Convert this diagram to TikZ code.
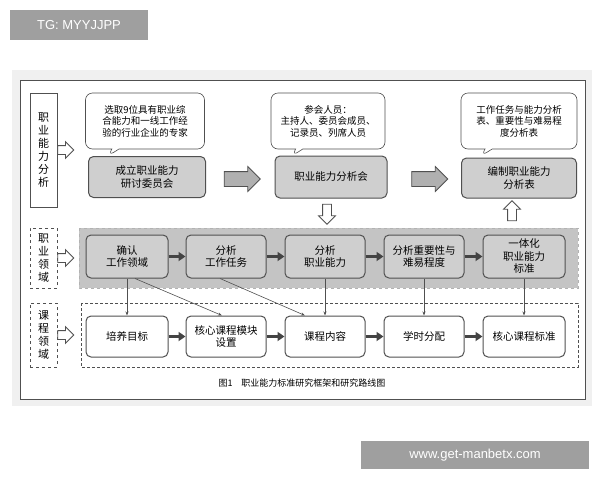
\documentclass[tikz,border=0pt]{standalone}
\usepackage{fontspec}
\setmainfont{Noto Sans CJK SC}
\setsansfont{Liberation Sans}
\usetikzlibrary{shapes.callouts,arrows.meta,shapes.arrows}
\definecolor{boxg}{HTML}{CFCFCF}
\definecolor{bandg}{HTML}{C4C4C4}
\definecolor{edge}{HTML}{505050}
\tikzset{
 px/.style={x=1pt,y=-1pt},
 gbox/.style={draw=edge,fill=boxg,rounded corners=5pt,line width=1pt,align=center,font=\fontsize{10.5}{12.5}\selectfont,inner sep=1pt},
 wbox/.style={draw=edge,fill=white,rounded corners=5pt,line width=1pt,align=center,font=\fontsize{10.5}{12.5}\selectfont,inner sep=1pt},
 lbl/.style={draw=edge,fill=white,align=center,font=\fontsize{11}{13}\selectfont,inner sep=1pt,line width=0.8pt},
 callt/.style={rectangle callout,draw=edge,fill=white,rounded corners=7pt,align=center,font=\fontsize{9.5}{11.5}\selectfont,inner sep=1pt,line width=0.6pt},
 blk/.style={single arrow,draw=edge,fill=bandg!90!black,minimum height=36pt,inner xsep=0pt,inner ysep=7pt,single arrow head extend=5pt,line width=0.8pt},
 hol/.style={single arrow,draw=edge,fill=white,minimum height=16pt,inner xsep=0pt,inner ysep=4pt,single arrow head extend=4pt,line width=0.8pt},
 holv/.style={single arrow,draw=edge,fill=white,minimum height=20pt,inner xsep=4pt,inner ysep=0pt,single arrow head extend=4pt,line width=0.8pt},
 dk/.style={-{Triangle[length=7pt,width=9pt]},line width=3pt,draw=edge!85!black},
 thin/.style={-{Stealth[length=4pt]},draw=edge,line width=0.6pt},
}
\begin{document}
\begin{tikzpicture}[px]
\useasboundingbox (0,0) rectangle (600,480);
\fill[white] (0,0) rectangle (600,480);
\fill[gray!12] (12,70) rectangle (592,406);
\draw[draw=edge,line width=1pt,fill=white] (20,80) rectangle (585,399);
\node[fill=gray!75,text=white,minimum width=138pt,minimum height=30pt,font=\sffamily\fontsize{13}{15}\selectfont,inner sep=0pt] (tg) at (79,25) {TG: MYYJJPP};
\node[fill=gray!75,text=white,minimum width=228pt,minimum height=28pt,font=\sffamily\fontsize{13}{15}\selectfont,inner sep=0pt] (url) at (475,455) {www.get-manbetx.com};
\draw[draw=gray!60,dashed,fill=bandg] (79,228) rectangle (578,288);
\draw[draw=edge,densely dashed,fill=white] (81,303) rectangle (578,367);
\node[lbl,minimum width=27pt,minimum height=114pt] (l1) at (43.5,150) {职\\业\\能\\力\\分\\析};
\node[lbl,dashed,minimum width=27pt,minimum height=60pt] (l2) at (43.5,258) {职\\业\\领\\域};
\node[lbl,dashed,minimum width=27pt,minimum height=64pt] (l3) at (43.5,335) {课\\程\\领\\域};
\node[hol,anchor=tail] (a1) at (l1.east) {};
\node[hol,anchor=tail] (a2) at (l2.east) {};
\node[hol,anchor=tail] (a3) at (l3.east) {};
\node[gbox,minimum width=117pt,minimum height=41pt] (t1) at (147,177) {成立职业能力\\研讨委员会};
\node[gbox,minimum width=112pt,minimum height=42pt] (t2) at (331,177) {职业能力分析会};
\node[gbox,minimum width=115pt,minimum height=40pt] (t3) at (519,178) {编制职业能力\\分析表};
\node[callt,minimum width=119pt,minimum height=56pt,callout absolute pointer={(108,156)}] (c1) at (145,121) {选取9位具有职业综\\合能力和一线工作经\\验的行业企业的专家};
\node[callt,minimum width=114pt,minimum height=56pt,callout absolute pointer={(292,156)}] (c2) at (328,121) {参会人员：\\主持人、委员会成员、\\记录员、列席人员};
\node[callt,minimum width=116pt,minimum height=56pt,callout absolute pointer={(481,156)}] (c3) at (519,121) {工作任务与能力分析\\表、重要性与难易程\\度分析表};
\node[blk] (b1) at (238.5,179) {};
\node[blk] (b2) at (426,179) {};
\node[holv,shape border rotate=270] (dn) at (327,212) {};
\node[holv,shape border rotate=90] (up) at (512,213) {};
\node[gbox,minimum width=82pt,minimum height=43pt] (r1) at (127,256.5) {确认\\工作领域};
\node[gbox,minimum width=80pt,minimum height=43pt] (r2) at (226,256.5) {分析\\工作任务};
\node[gbox,minimum width=80pt,minimum height=43pt] (r3) at (325,256.5) {分析\\职业能力};
\node[gbox,minimum width=80pt,minimum height=43pt] (r4) at (424,256.5) {分析重要性与\\难易程度};
\node[gbox,minimum width=82pt,minimum height=43pt] (r5) at (524,256.5) {一体化\\职业能力\\标准};
\node[wbox,minimum width=82pt,minimum height=41pt] (s1) at (127,336.5) {培养目标};
\node[wbox,minimum width=80pt,minimum height=41pt] (s2) at (226,336.5) {核心课程模块\\设置};
\node[wbox,minimum width=80pt,minimum height=41pt] (s3) at (325,336.5) {课程内容};
\node[wbox,minimum width=80pt,minimum height=41pt] (s4) at (424,336.5) {学时分配};
\node[wbox,minimum width=82pt,minimum height=41pt] (s5) at (524,336.5) {核心课程标准};
\foreach \a/\b in {r1/r2,r2/r3,r3/r4,r4/r5,s1/s2,s2/s3,s3/s4,s4/s5}
  \draw[dk] (\a.east) -- (\b.west);
\draw[thin] (r1.south) coordinate (p1) -- (p1 |- s1.north);
\draw[thin] ([xshift=8pt]r1.south) -- ([xshift=-4pt]s2.north);
\draw[thin] ([xshift=-6pt]r2.south) -- ([xshift=-20pt]s3.north);
\draw[thin] (r3.south) -- (s3.north);
\draw[thin] (r4.south) -- (s4.north);
\draw[thin] (r5.south) -- (s5.north);
\node[font=\fontsize{9}{11}\selectfont] (cap) at (302,383) {图1\quad 职业能力标准研究框架和研究路线图};
\end{tikzpicture}
\end{document}
